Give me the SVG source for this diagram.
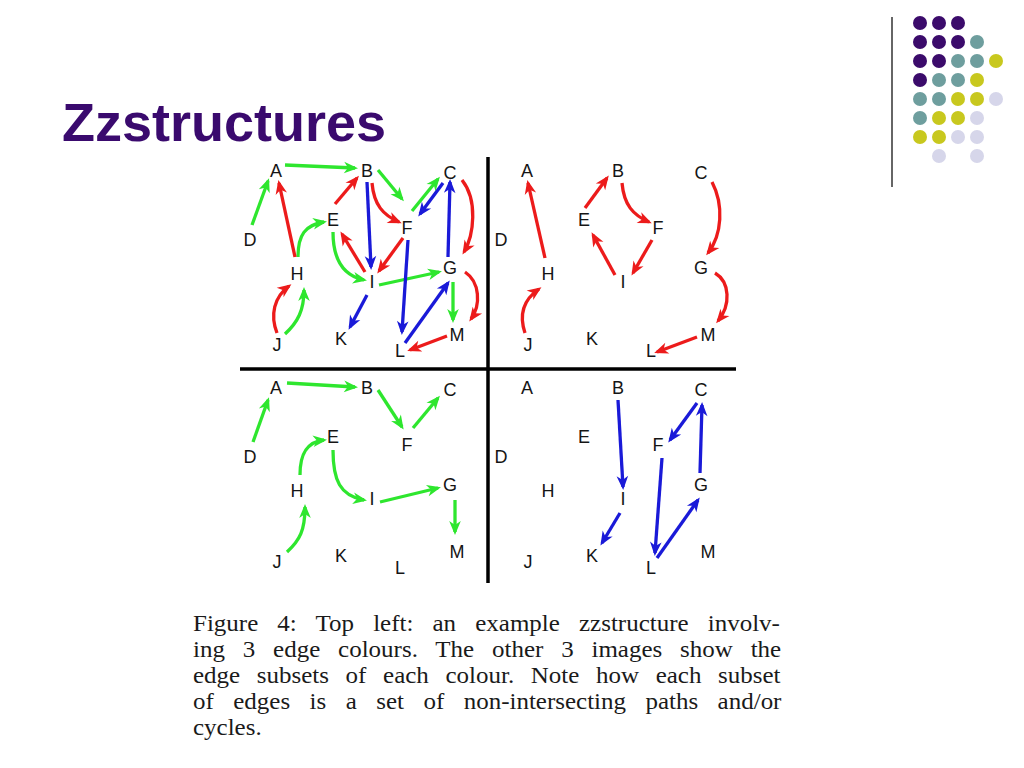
<svg xmlns="http://www.w3.org/2000/svg" width="1024" height="768" viewBox="0 0 1024 768">
<style>
.lbl{font-family:"Liberation Sans",Arial,sans-serif;font-size:18px;fill:#151515;text-anchor:middle}
.g{fill:none;stroke:#2ee62e;stroke-width:3.3}
.r{fill:none;stroke:#ec1b1b;stroke-width:3.3}
.b{fill:none;stroke:#1a1ad8;stroke-width:3.3}
.g{marker-end:url(#ag)}
.r{marker-end:url(#ar)}
.b{marker-end:url(#ab)}
.cap{font-family:"Liberation Serif","Times New Roman",serif;font-size:25px;fill:#1a1a1a}
.dp{fill:#3b0b6b}.dt{fill:#6e9e9e}.dy{fill:#c8c81e}.dl{fill:#d6d6ea}
</style>
<defs>
<marker id="ag" viewBox="-15 -7 17 14" refX="-3" refY="0" markerWidth="17" markerHeight="14" markerUnits="userSpaceOnUse" orient="auto"><path d="M0,0 L-14,-5.8 L-10,0 L-14,5.8 Z" fill="#2ee62e"/></marker>
<marker id="ar" viewBox="-15 -7 17 14" refX="-3" refY="0" markerWidth="17" markerHeight="14" markerUnits="userSpaceOnUse" orient="auto"><path d="M0,0 L-14,-5.8 L-10,0 L-14,5.8 Z" fill="#ec1b1b"/></marker>
<marker id="ab" viewBox="-15 -7 17 14" refX="-3" refY="0" markerWidth="17" markerHeight="14" markerUnits="userSpaceOnUse" orient="auto"><path d="M0,0 L-14,-5.8 L-10,0 L-14,5.8 Z" fill="#1a1ad8"/></marker>
</defs>
<rect width="1024" height="768" fill="#ffffff"/>

<g id="decor">
<line x1="892" y1="17" x2="892" y2="187" stroke="#333" stroke-width="1.5"/>
<circle class="dp" cx="920" cy="23" r="7"/><circle class="dp" cx="939" cy="23" r="7"/><circle class="dp" cx="958" cy="23" r="7"/>
<circle class="dp" cx="920" cy="42" r="7"/><circle class="dp" cx="939" cy="42" r="7"/><circle class="dp" cx="958" cy="42" r="7"/><circle class="dt" cx="977" cy="42" r="7"/>
<circle class="dp" cx="920" cy="61" r="7"/><circle class="dp" cx="939" cy="61" r="7"/><circle class="dt" cx="958" cy="61" r="7"/><circle class="dt" cx="977" cy="61" r="7"/><circle class="dy" cx="996" cy="61" r="7"/>
<circle class="dp" cx="920" cy="80" r="7"/><circle class="dt" cx="939" cy="80" r="7"/><circle class="dt" cx="958" cy="80" r="7"/><circle class="dy" cx="977" cy="80" r="7"/>
<circle class="dt" cx="920" cy="99" r="7"/><circle class="dt" cx="939" cy="99" r="7"/><circle class="dy" cx="958" cy="99" r="7"/><circle class="dy" cx="977" cy="99" r="7"/><circle class="dl" cx="996" cy="99" r="7"/>
<circle class="dt" cx="920" cy="118" r="7"/><circle class="dy" cx="939" cy="118" r="7"/><circle class="dy" cx="958" cy="118" r="7"/><circle class="dl" cx="977" cy="118" r="7"/>
<circle class="dy" cx="920" cy="137" r="7"/><circle class="dy" cx="939" cy="137" r="7"/><circle class="dl" cx="958" cy="137" r="7"/><circle class="dl" cx="977" cy="137" r="7"/>
<circle class="dl" cx="939" cy="156" r="7"/><circle class="dl" cx="977" cy="156" r="7"/>
</g>

<text x="62" y="141" font-family="Liberation Sans,Arial,sans-serif" font-size="54" font-weight="bold" fill="#3a0a6e">Zzstructures</text>

<g id="dividers" stroke="#000" stroke-width="3.5">
<line x1="488" y1="157" x2="488" y2="583"/>
<line x1="240" y1="369" x2="736" y2="369"/>
</g>

<g id="connectors">
<!-- top-left: all -->
<path class="g" d="M285,165 L355,168"/>
<path class="g" d="M252,225 L268,181"/>
<path class="g" d="M378,170 L402,199"/>
<path class="g" d="M412,211 L438,179"/>
<path class="g" d="M298,257 C298,235 305,225 324,222"/>
<path class="g" d="M333,232 C333,262 345,276 364,280"/>
<path class="g" d="M379,285 L439,272"/>
<path class="g" d="M453,282 L453,320"/>
<path class="g" d="M285,334 C298,322 304,310 304,290"/>
<path class="r" d="M295,257 L279,183"/>
<path class="r" d="M277,333 C270,315 274,297 289,286"/>
<path class="r" d="M335,204 L357,178"/>
<path class="r" d="M372,183 C374,205 383,215 399,222"/>
<path class="r" d="M365,272 L342,234"/>
<path class="r" d="M403,238 L379,271"/>
<path class="r" d="M462,180 C478,200 474,235 464,252"/>
<path class="r" d="M465,272 C480,282 481,305 471,319"/>
<path class="r" d="M447,336 L410,350"/>
<path class="b" d="M367,182 L371,267"/>
<path class="b" d="M443,183 L420,214"/>
<path class="b" d="M408,240 L402,332"/>
<path class="b" d="M405,343 L448,283"/>
<path class="b" d="M448,257 L450,182"/>
<path class="b" d="M367,295 L350,327"/>
<!-- top-right: red -->
<path class="r" d="M545,258 L528,183"/>
<path class="r" d="M525,333 C519,315 523,300 539,289"/>
<path class="r" d="M585,208 L607,178"/>
<path class="r" d="M622,183 C624,205 633,215 649,222"/>
<path class="r" d="M652,240 L633,273"/>
<path class="r" d="M615,275 L593,235"/>
<path class="r" d="M712,182 C724,205 722,235 708,253"/>
<path class="r" d="M715,273 C730,282 731,305 718,321"/>
<path class="r" d="M697,337 L657,352"/>
<!-- bottom-left: green -->
<path class="g" d="M287,383 L355,387"/>
<path class="g" d="M253,442 L268,400"/>
<path class="g" d="M378,390 L402,427"/>
<path class="g" d="M413,428 L438,398"/>
<path class="g" d="M300,475 C300,455 306,442 324,440"/>
<path class="g" d="M333,450 C333,480 340,496 364,500"/>
<path class="g" d="M380,502 L438,488"/>
<path class="g" d="M455,500 L455,532"/>
<path class="g" d="M287,552 C300,540 305,530 305,507"/>
<!-- bottom-right: blue -->
<path class="b" d="M618,400 L623,487"/>
<path class="b" d="M697,403 L670,440"/>
<path class="b" d="M662,458 L655,553"/>
<path class="b" d="M657,558 L698,500"/>
<path class="b" d="M700,473 L702,405"/>
<path class="b" d="M620,513 L602,543"/>
</g>

<g id="panel-tl">
<g id="tl-A"><text class="lbl" x="276" y="177">A</text></g>
<g id="tl-B"><text class="lbl" x="367" y="177">B</text></g>
<g id="tl-C"><text class="lbl" x="450" y="179">C</text></g>
<g id="tl-D"><text class="lbl" x="250" y="246">D</text></g>
<g id="tl-E"><text class="lbl" x="333" y="226">E</text></g>
<g id="tl-F"><text class="lbl" x="407" y="234">F</text></g>
<g id="tl-G"><text class="lbl" x="450" y="274">G</text></g>
<g id="tl-H"><text class="lbl" x="297" y="280">H</text></g>
<g id="tl-I"><text class="lbl" x="372" y="288">I</text></g>
<g id="tl-J"><text class="lbl" x="277" y="351">J</text></g>
<g id="tl-K"><text class="lbl" x="341" y="345">K</text></g>
<g id="tl-L"><text class="lbl" x="400" y="357">L</text></g>
<g id="tl-M"><text class="lbl" x="457" y="341">M</text></g>
</g>
<g id="panel-tr" transform="translate(251,0)">
<g id="tr-A"><text class="lbl" x="276" y="177">A</text></g>
<g id="tr-B"><text class="lbl" x="367" y="177">B</text></g>
<g id="tr-C"><text class="lbl" x="450" y="179">C</text></g>
<g id="tr-D"><text class="lbl" x="250" y="246">D</text></g>
<g id="tr-E"><text class="lbl" x="333" y="226">E</text></g>
<g id="tr-F"><text class="lbl" x="407" y="234">F</text></g>
<g id="tr-G"><text class="lbl" x="450" y="274">G</text></g>
<g id="tr-H"><text class="lbl" x="297" y="280">H</text></g>
<g id="tr-I"><text class="lbl" x="372" y="288">I</text></g>
<g id="tr-J"><text class="lbl" x="277" y="351">J</text></g>
<g id="tr-K"><text class="lbl" x="341" y="345">K</text></g>
<g id="tr-L"><text class="lbl" x="400" y="357">L</text></g>
<g id="tr-M"><text class="lbl" x="457" y="341">M</text></g>
</g>
<g id="panel-bl" transform="translate(0,217)">
<g id="bl-A"><text class="lbl" x="276" y="177">A</text></g>
<g id="bl-B"><text class="lbl" x="367" y="177">B</text></g>
<g id="bl-C"><text class="lbl" x="450" y="179">C</text></g>
<g id="bl-D"><text class="lbl" x="250" y="246">D</text></g>
<g id="bl-E"><text class="lbl" x="333" y="226">E</text></g>
<g id="bl-F"><text class="lbl" x="407" y="234">F</text></g>
<g id="bl-G"><text class="lbl" x="450" y="274">G</text></g>
<g id="bl-H"><text class="lbl" x="297" y="280">H</text></g>
<g id="bl-I"><text class="lbl" x="372" y="288">I</text></g>
<g id="bl-J"><text class="lbl" x="277" y="351">J</text></g>
<g id="bl-K"><text class="lbl" x="341" y="345">K</text></g>
<g id="bl-L"><text class="lbl" x="400" y="357">L</text></g>
<g id="bl-M"><text class="lbl" x="457" y="341">M</text></g>
</g>
<g id="panel-br" transform="translate(251,217)">
<g id="br-A"><text class="lbl" x="276" y="177">A</text></g>
<g id="br-B"><text class="lbl" x="367" y="177">B</text></g>
<g id="br-C"><text class="lbl" x="450" y="179">C</text></g>
<g id="br-D"><text class="lbl" x="250" y="246">D</text></g>
<g id="br-E"><text class="lbl" x="333" y="226">E</text></g>
<g id="br-F"><text class="lbl" x="407" y="234">F</text></g>
<g id="br-G"><text class="lbl" x="450" y="274">G</text></g>
<g id="br-H"><text class="lbl" x="297" y="280">H</text></g>
<g id="br-I"><text class="lbl" x="372" y="288">I</text></g>
<g id="br-J"><text class="lbl" x="277" y="351">J</text></g>
<g id="br-K"><text class="lbl" x="341" y="345">K</text></g>
<g id="br-L"><text class="lbl" x="400" y="357">L</text></g>
<g id="br-M"><text class="lbl" x="457" y="341">M</text></g>
</g>

<g id="caption" transform="matrix(1 0 0 0.9 0 0)">
<text class="cap" x="193" y="701" word-spacing="12.9">Figure 4: Top left: an example zzstructure involv-</text>
<text class="cap" x="193" y="730" word-spacing="11.6">ing 3 edge colours. The other 3 images show the</text>
<text class="cap" x="193" y="759" word-spacing="10.4">edge subsets of each colour. Note how each subset</text>
<text class="cap" x="193" y="788" word-spacing="13.2">of edges is a set of non-intersecting paths and/or</text>
<text class="cap" x="193" y="817">cycles.</text>
</g>
</svg>
